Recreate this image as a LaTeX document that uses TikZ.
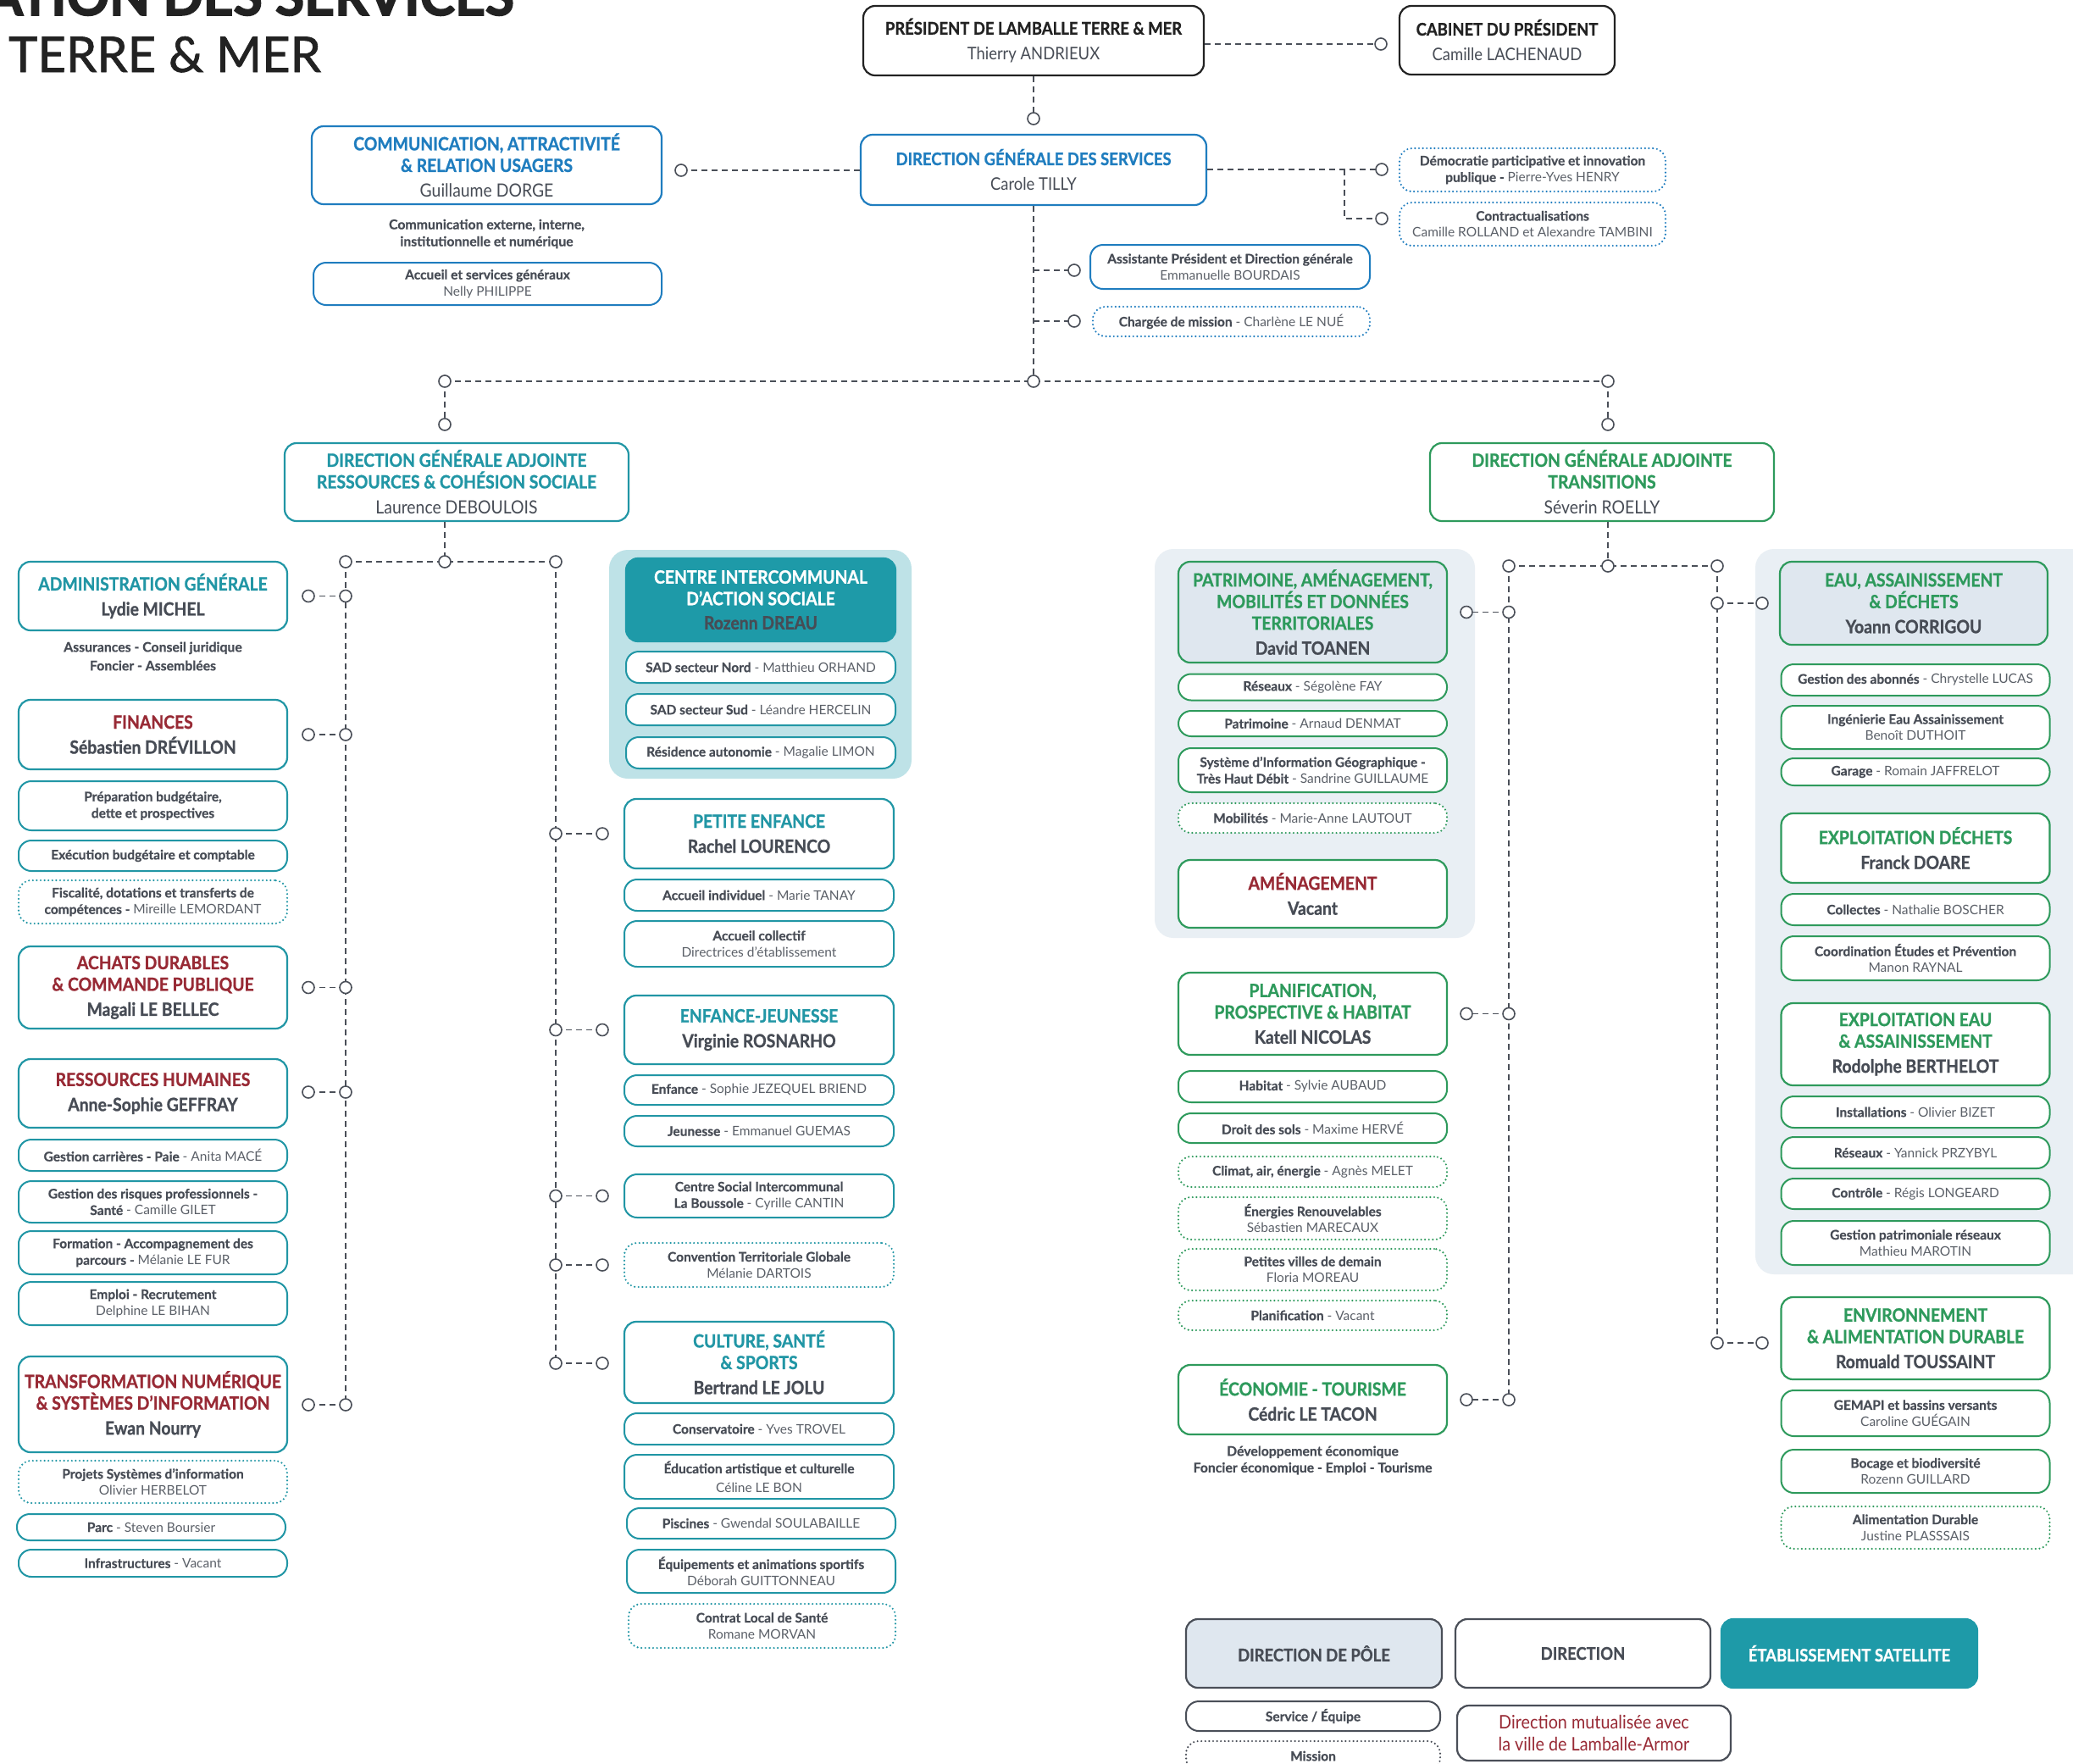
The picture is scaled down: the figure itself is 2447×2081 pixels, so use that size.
\documentclass[tikz,border=0pt]{standalone}
\usepackage{fontspec}
\setmainfont{Lato}[BoldFeatures={FakeBold=0.6}]
\newfontfamily\cnd{Lato}[FakeStretch=0.9, BoldFeatures={FakeBold=1.0}]
\newfontfamily\ttla{Lato}[FakeStretch=0.99, BoldFeatures={FakeBold=2.5}]
\newfontfamily\ttlb{Lato}[FakeBold=1.2]
\usepackage{graphicx}
\definecolor{txt}{HTML}{474C55}
\definecolor{txtl}{HTML}{5B6068}
\definecolor{lkc}{HTML}{4A4F58}
\definecolor{blk}{HTML}{222222}
\definecolor{bl}{HTML}{1F7DBF}
\definecolor{tl}{HTML}{2196A5}
\definecolor{gr}{HTML}{2E9A5C}
\definecolor{rouge}{HTML}{982A35}
\definecolor{tealbg}{HTML}{BEE2E7}
\definecolor{greybg}{HTML}{E9EFF4}
\definecolor{polefill}{HTML}{DFE7EF}
\definecolor{ciasfill}{HTML}{1E9AA8}
\newcommand\mkbox[7]{\node[#1, minimum width=#5pt, minimum height=#6pt] (#2) at (#3,#4) {#7};}
\newcommand\bt[1]{{\bfseries\color{txt}#1}}
\newcommand\nmr[1]{{\mdseries\color{txt}#1}}
\tikzset{
  mbox/.style={draw=#1, rounded corners=14pt, line width=2.2pt, align=center, inner sep=0pt, text=txt, fill=white, font=\cnd\fontsize{21.5}{25.5}\selectfont\bfseries},
  tbox/.style={mbox=#1, font=\cnd\fontsize{20.5}{24}\selectfont\bfseries},
  sbox/.style={draw=#1, rounded corners=15pt, line width=2pt, align=center, inner sep=0pt, text=txtl, fill=white, font=\fontsize{15.5}{19.5}\selectfont},
  dbox/.style={sbox=#1, dash pattern=on 0pt off 4.6pt, line cap=round, line width=2.4pt},
  plain/.style={align=center, inner sep=0pt, text=txt, font=\fontsize{15.8}{22}\selectfont\bfseries},
  lk/.style={draw=lkc, line width=1.6pt, dash pattern=on 7pt off 5pt},
  ring/.style={circle, draw=lkc, fill=white, line width=1.6pt, minimum size=14pt, inner sep=0pt},
}
\begin{document}
\begin{tikzpicture}[x=1pt,y=-1pt]
\useasboundingbox (0,0) rectangle (2447,2081);
\clip (0,0) rectangle (2447,2081);
\fill[white] (0,0) rectangle (2447,2081);

% title
\node[anchor=base east, inner sep=0pt, text=blk, font=\ttla\fontsize{63}{63}\selectfont\bfseries] (ttl1) at (607,18) {ATION DES SERVICES};
\node[anchor=base west, inner sep=0pt, text=blk, font=\ttlb\fontsize{58}{58}\selectfont] (ttl2) at (10,85) {TERRE \& MER};

% backgrounds
\fill[tealbg, rounded corners=22pt] (719,649) rectangle (1076,919);
\fill[greybg, rounded corners=22pt] (1363,648) rectangle (1741,1107);
\fill[greybg, rounded corners=22pt] (2072,648) rectangle (2480,1504);

% top
\mkbox{tbox=blk, text=blk}{pres}{1220}{48}{402}{82}{PRÉSIDENT DE LAMBALLE TERRE \& MER\\[6pt]\nmr{Thierry ANDRIEUX}}
\mkbox{tbox=blk, text=blk}{cab}{1779}{47.5}{254}{81}{CABINET DU PRÉSIDENT\\[6pt]\nmr{Camille LACHENAUD}}
\mkbox{tbox=bl}{dgs}{1220}{200.5}{408}{83}{\textcolor{bl}{DIRECTION GÉNÉRALE DES SERVICES}\\[6pt]\nmr{Carole TILLY}}
\mkbox{mbox=bl}{comm}{574.5}{195}{413}{92}{\textcolor{bl}{COMMUNICATION, ATTRACTIVITÉ}\\\textcolor{bl}{\& RELATION USAGERS}\\[4pt]\nmr{Guillaume DORGE}}
\node[plain, font=\fontsize{15.8}{20}\selectfont\bfseries] (commt) at (574.5,276) {Communication externe, interne,\\institutionnelle et numérique};
\mkbox{sbox=bl}{acc}{575.5}{335}{411}{50}{\bt{Accueil et services généraux}\\Nelly PHILIPPE}
\mkbox{dbox=bl}{demo}{1809}{200.5}{314}{51}{\bt{Démocratie participative et innovation}\\\bt{publique -} Pierre-Yves HENRY}
\mkbox{dbox=bl}{contr}{1809}{264.5}{314}{51}{\bt{Contractualisations}\\Camille ROLLAND et Alexandre TAMBINI}
\mkbox{sbox=bl}{assist}{1452}{315}{330}{52}{\bt{Assistante Président et Direction générale}\\Emmanuelle BOURDAIS}
\mkbox{dbox=bl}{charg}{1453.5}{379.5}{327}{35}{\bt{Chargée de mission} - Charlène LE NUÉ}
\mkbox{mbox=tl}{dgal}{539}{569}{406}{92}{\textcolor{tl}{DIRECTION GÉNÉRALE ADJOINTE}\\\textcolor{tl}{RESSOURCES \& COHÉSION SOCIALE}\\[5pt]\nmr{Laurence DEBOULOIS}}
\mkbox{mbox=gr}{dgar}{1891}{569}{406}{92}{\textcolor{gr}{DIRECTION GÉNÉRALE ADJOINTE}\\\textcolor{gr}{TRANSITIONS}\\[5pt]\nmr{Séverin ROELLY}}

% left column
\mkbox{mbox=tl}{adm}{180.5}{703.5}{317}{81}{\textcolor{tl}{ADMINISTRATION GÉNÉRALE}\\[4pt]Lydie MICHEL}
\node[plain] (admt) at (180.5,774.5) {Assurances - Conseil juridique\\Foncier - Assemblées};
\mkbox{mbox=tl}{fin}{180.5}{867}{317}{82}{\textcolor{rouge}{FINANCES}\\[4pt]Sébastien DRÉVILLON}
\mkbox{sbox=tl}{prep}{180.5}{951}{317}{58}{\bt{Préparation budgétaire,}\\\bt{dette et prospectives}}
\mkbox{sbox=tl}{exec}{180.5}{1010}{317}{36}{\bt{Exécution budgétaire et comptable}}
\mkbox{dbox=tl}{fisc}{180.5}{1064.5}{317}{51}{\bt{Fiscalité, dotations et transferts de}\\\bt{compétences -} Mireille LEMORDANT}
\mkbox{mbox=tl}{ach}{180.5}{1165.5}{317}{97}{\textcolor{rouge}{ACHATS DURABLES}\\\textcolor{rouge}{\& COMMANDE PUBLIQUE}\\[4pt]Magali LE BELLEC}
\mkbox{mbox=tl}{rh}{180.5}{1290.5}{317}{81}{\textcolor{rouge}{RESSOURCES HUMAINES}\\[4pt]Anne-Sophie GEFFRAY}
\mkbox{sbox=tl}{gcar}{180.5}{1363.5}{317}{37}{\bt{Gestion carrières - Paie} - Anita MACÉ}
\mkbox{sbox=tl}{grisk}{180.5}{1418.5}{317}{49}{\bt{Gestion des risques professionnels -}\\\bt{Santé} - Camille GILET}
\mkbox{sbox=tl}{form}{180.5}{1478.5}{317}{51}{\bt{Formation - Accompagnement des}\\\bt{parcours -} Mélanie LE FUR}
\mkbox{sbox=tl}{empl}{180.5}{1538.5}{317}{51}{\bt{Emploi - Recrutement}\\Delphine LE BIHAN}
\mkbox{mbox=tl}{tn}{180.5}{1657.5}{317}{113}{\textcolor{rouge}{TRANSFORMATION NUMÉRIQUE}\\\textcolor{rouge}{\& SYSTÈMES D’INFORMATION}\\[4pt]Ewan Nourry}
\mkbox{dbox=tl}{psi}{180.5}{1749}{317}{50}{\bt{Projets Systèmes d’information}\\Olivier HERBELOT}
\mkbox{sbox=tl}{parc}{178.5}{1802.5}{317}{31}{\bt{Parc} - Steven Boursier}
\mkbox{sbox=tl}{infra}{180.5}{1845}{317}{32}{\bt{Infrastructures} - Vacant}

% middle column
\mkbox{mbox=ciasfill, fill=ciasfill}{cias}{898}{708}{318}{98}{\textcolor{white}{CENTRE INTERCOMMUNAL}\\\textcolor{white}{D’ACTION SOCIALE}\\[3pt]Rozenn DREAU}
\mkbox{sbox=tl}{sadn}{898}{787.5}{318}{37}{\bt{SAD secteur Nord} - Matthieu ORHAND}
\mkbox{sbox=tl}{sads}{898}{837.5}{318}{37}{\bt{SAD secteur Sud} - Léandre HERCELIN}
\mkbox{sbox=tl}{resid}{898}{888.5}{318}{37}{\bt{Résidence autonomie} - Magalie LIMON}
\mkbox{mbox=tl}{pe}{896}{984}{318}{82}{\textcolor{tl}{PETITE ENFANCE}\\[4pt]Rachel LOURENCO}
\mkbox{sbox=tl}{ai}{896}{1056.5}{318}{37}{\bt{Accueil individuel} - Marie TANAY}
\mkbox{sbox=tl}{ac}{896}{1114}{318}{54}{\bt{Accueil collectif}\\Directrices d’établissement}
\mkbox{mbox=tl}{ej}{896}{1215.5}{318}{81}{\textcolor{tl}{ENFANCE-JEUNESSE}\\[4pt]Virginie ROSNARHO}
\mkbox{sbox=tl}{enf}{896}{1286.5}{318}{35}{\bt{Enfance} - Sophie JEZEQUEL BRIEND}
\mkbox{sbox=tl}{jeu}{896}{1335}{318}{36}{\bt{Jeunesse} - Emmanuel GUEMAS}
\mkbox{sbox=tl}{csi}{896}{1411.5}{318}{51}{\bt{Centre Social Intercommunal}\\\bt{La Boussole} - Cyrille CANTIN}
\mkbox{dbox=tl}{ctg}{896}{1493}{318}{52}{\bt{Convention Territoriale Globale}\\Mélanie DARTOIS}
\mkbox{mbox=tl}{cul}{896}{1608}{318}{96}{\textcolor{tl}{CULTURE, SANTÉ}\\\textcolor{tl}{\& SPORTS}\\[4pt]Bertrand LE JOLU}
\mkbox{sbox=tl}{cons}{896}{1686.5}{318}{37}{\bt{Conservatoire} - Yves TROVEL}
\mkbox{sbox=tl}{edu}{896}{1743}{318}{52}{\bt{Éducation artistique et culturelle}\\[3pt]Céline LE BON}
\mkbox{sbox=tl}{pisc}{898.5}{1798}{317}{36}{\bt{Piscines} - Gwendal SOULABAILLE}
\mkbox{sbox=tl}{equip}{898.5}{1854.5}{317}{51}{\bt{Équipements et animations sportifs}\\Déborah GUITTONNEAU}
\mkbox{dbox=tl}{cls}{899.5}{1919}{315}{52}{\bt{Contrat Local de Santé}\\Romane MORVAN}

% right-centre column
\mkbox{mbox=gr, fill=polefill}{pat}{1549.5}{722.5}{317}{119}{\textcolor{gr}{PATRIMOINE, AMÉNAGEMENT,}\\\textcolor{gr}{MOBILITÉS ET DONNÉES}\\\textcolor{gr}{TERRITORIALES}\\[4pt]David TOANEN}
\mkbox{sbox=gr}{resa}{1549.5}{811}{317}{31}{\bt{Réseaux} - Ségolène FAY}
\mkbox{sbox=gr}{patr}{1549.5}{854}{317}{30}{\bt{Patrimoine} - Arnaud DENMAT}
\mkbox{sbox=gr}{sig}{1549.5}{909}{317}{52}{\bt{Système d’Information Géographique -}\\\bt{Très Haut Débit} - Sandrine GUILLAUME}
\mkbox{dbox=gr}{mob}{1549.5}{965.5}{317}{35}{\bt{Mobilités} - Marie-Anne LAUTOUT}
\mkbox{mbox=gr}{amen}{1549.5}{1055}{317}{80}{\textcolor{rouge}{AMÉNAGEMENT}\\[4pt]Vacant}
\mkbox{mbox=gr}{plan}{1549.5}{1196.5}{317}{97}{\textcolor{gr}{PLANIFICATION,}\\\textcolor{gr}{PROSPECTIVE \& HABITAT}\\[4pt]Katell NICOLAS}
\mkbox{sbox=gr}{hab}{1549.5}{1282.5}{317}{37}{\bt{Habitat} - Sylvie AUBAUD}
\mkbox{sbox=gr}{droit}{1549.5}{1331.5}{317}{35}{\bt{Droit des sols} - Maxime HERVÉ}
\mkbox{dbox=gr}{clim}{1549.5}{1383}{317}{36}{\bt{Climat, air, énergie} - Agnès MELET}
\mkbox{dbox=gr}{ener}{1549.5}{1438}{317}{50}{\bt{Énergies Renouvelables}\\Sébastien MARECAUX}
\mkbox{dbox=gr}{pvd}{1549.5}{1498.5}{317}{49}{\bt{Petites villes de demain}\\Floria MOREAU}
\mkbox{dbox=gr}{planv}{1549.5}{1552.5}{317}{35}{\bt{Planification} - Vacant}
\mkbox{mbox=gr}{eco}{1549.5}{1652}{317}{82}{\textcolor{gr}{ÉCONOMIE - TOURISME}\\[4pt]Cédric LE TACON}
\node[plain, font=\fontsize{15.8}{19.5}\selectfont\bfseries] (ecot) at (1549.5,1723.5) {Développement économique\\Foncier économique - Emploi - Tourisme};

% right column
\mkbox{mbox=gr, fill=polefill}{eau}{2259}{712}{316}{98}{\textcolor{gr}{EAU, ASSAINISSEMENT}\\\textcolor{gr}{\& DÉCHETS}\\[4pt]Yoann CORRIGOU}
\mkbox{sbox=gr}{gab}{2261}{802.5}{317}{37}{\bt{Gestion des abonnés} - Chrystelle LUCAS}
\mkbox{sbox=gr}{ing}{2261}{858.5}{317}{51}{\bt{Ingénierie Eau Assainissement}\\Benoît DUTHOIT}
\mkbox{sbox=gr}{gar}{2261}{911}{317}{32}{\bt{Garage} - Romain JAFFRELOT}
\mkbox{mbox=gr}{expd}{2261}{1001}{317}{82}{\textcolor{gr}{EXPLOITATION DÉCHETS}\\[4pt]Franck DOARE}
\mkbox{sbox=gr}{coll}{2261}{1073.5}{317}{37}{\bt{Collectes} - Nathalie BOSCHER}
\mkbox{sbox=gr}{coord}{2261}{1131}{317}{52}{\bt{Coordination Études et Prévention}\\Manon RAYNAL}
\mkbox{mbox=gr}{expe}{2261}{1232.5}{317}{97}{\textcolor{gr}{EXPLOITATION EAU}\\\textcolor{gr}{\& ASSAINISSEMENT}\\[4pt]Rodolphe BERTHELOT}
\mkbox{sbox=gr}{inst}{2261}{1312.5}{317}{37}{\bt{Installations} - Olivier BIZET}
\mkbox{sbox=gr}{resb}{2261}{1360.5}{317}{37}{\bt{Réseaux} - Yannick PRZYBYL}
\mkbox{sbox=gr}{ctrl}{2261}{1409}{317}{36}{\bt{Contrôle} - Régis LONGEARD}
\mkbox{sbox=gr}{gpr}{2261}{1467}{317}{52}{\bt{Gestion patrimoniale réseaux}\\Mathieu MAROTIN}
\mkbox{mbox=gr}{env}{2261}{1579.5}{317}{97}{\textcolor{gr}{ENVIRONNEMENT}\\\textcolor{gr}{\& ALIMENTATION DURABLE}\\[4pt]Romuald TOUSSAINT}
\mkbox{sbox=gr}{gem}{2261}{1668}{317}{54}{\bt{GEMAPI et bassins versants}\\Caroline GUÉGAIN}
\mkbox{sbox=gr}{boc}{2261}{1736.5}{317}{51}{\bt{Bocage et biodiversité}\\Rozenn GUILLARD}
\mkbox{dbox=gr}{alim}{2261}{1803}{317}{50}{\bt{Alimentation Durable}\\Justine PLASSSAIS}

% legend
\mkbox{tbox=lkc, fill=polefill}{lpole}{1551}{1951.5}{302}{81}{DIRECTION DE PÔLE}
\mkbox{tbox=lkc}{ldir}{1868.5}{1951.5}{301}{81}{DIRECTION}
\mkbox{tbox=ciasfill, fill=ciasfill, text=white}{lsat}{2183}{1951.5}{302}{81}{ÉTABLISSEMENT SATELLITE}
\mkbox{sbox=lkc}{lserv}{1550}{2025.5}{300}{35}{\bt{Service / Équipe}}
\mkbox{dbox=lkc}{lmis}{1550}{2072.5}{300}{35}{\bt{Mission}}
\mkbox{tbox=lkc, font=\cnd\fontsize{22}{26}\selectfont, text=rouge}{lmut}{1881.5}{2045.5}{323}{65}{Direction mutualisée avec\\la ville de Lamballe-Armor}

% connector points
\coordinate (ccab) at (1630,52);
\coordinate (cdgs) at (1220,140);
\coordinate (ccomm) at (804,201);
\coordinate (cdemo) at (1631,200);
\coordinate (kdemo) at (1587,200);
\coordinate (ccontr) at (1631,258);
\coordinate (jba) at (1220,319);
\coordinate (cass) at (1268,319);
\coordinate (jbb) at (1220,379);
\coordinate (cchg) at (1268,379);
\coordinate (jmid) at (1220,450);
\coordinate (jl) at (525,450);
\coordinate (jr) at (1898,450);
\coordinate (cdgal) at (525,501);
\coordinate (cdgar) at (1898,501);
\coordinate (ltop) at (525,663);
\coordinate (la) at (408,663);
\coordinate (lb) at (656,663);
\coordinate (rtop) at (1898,668);
\coordinate (ra) at (1781,668);
\coordinate (rb) at (2027,668);
\foreach \n/\yy in {a/703.5,b/867,c/1165.5,d/1289,e/1658}{
  \coordinate (LV\n) at (408,\yy); \coordinate (LC\n) at (364,\yy);}
\foreach \n/\yy in {a/984,b/1215.5,c/1411.5,d/1493,e/1609}{
  \coordinate (RV\n) at (656,\yy); \coordinate (RC\n) at (711,\yy);}
\foreach \n/\yy in {a/722.5,b/1196.5,c/1652}{
  \coordinate (TV\n) at (1781,\yy); \coordinate (TC\n) at (1731,\yy);}
\foreach \n/\yy in {a/712,b/1585}{
  \coordinate (UV\n) at (2027,\yy); \coordinate (UC\n) at (2080,\yy);}

% connectors
\draw[lk] (pres.east |- ccab) -- (ccab);
\draw[lk] (pres.south) -- (cdgs);
\draw[lk] (dgs.west |- ccomm) -- (ccomm);
\draw[lk] (dgs.east |- cdemo) -- (cdemo);
\draw[lk] (kdemo) |- (ccontr);
\draw[lk] (dgs.south) -- (jmid);
\draw[lk] (jba) -- (cass);
\draw[lk] (jbb) -- (cchg);
\draw[lk] (jl) -- (jr);
\draw[lk] (jl) -- (cdgal);
\draw[lk] (jr) -- (cdgar);
\draw[lk] (ltop |- dgal.south) -- (ltop);
\draw[lk] (la) -- (lb);
\draw[lk] (la) -- (LVe);
\draw[lk] (lb) -- (RVe);
\draw[lk] (rtop |- dgar.south) -- (rtop);
\draw[lk] (ra) -- (rb);
\draw[lk] (ra) -- (TVc);
\draw[lk] (rb) -- (UVb);
\foreach \n in {a,b,c,d,e}{\draw[lk] (LV\n) -- (LC\n); \draw[lk] (RV\n) -- (RC\n);}
\foreach \n in {a,b,c}{\draw[lk] (TV\n) -- (TC\n);}
\foreach \n in {a,b}{\draw[lk] (UV\n) -- (UC\n);}

% rings
\foreach \c in {ccab,cdgs,ccomm,cdemo,ccontr,cass,cchg,jl,jmid,jr,cdgal,cdgar,ltop,la,lb,rtop,ra,rb,
  LVa,LVb,LVc,LVd,LVe,LCa,LCb,LCc,LCd,LCe,RVa,RVb,RVc,RVd,RVe,RCa,RCb,RCc,RCd,RCe,
  TVa,TVb,TVc,TCa,TCb,TCc,UVa,UVb,UCa,UCb}{\node[ring] (o\c) at (\c) {};}
\end{tikzpicture}
\end{document}
